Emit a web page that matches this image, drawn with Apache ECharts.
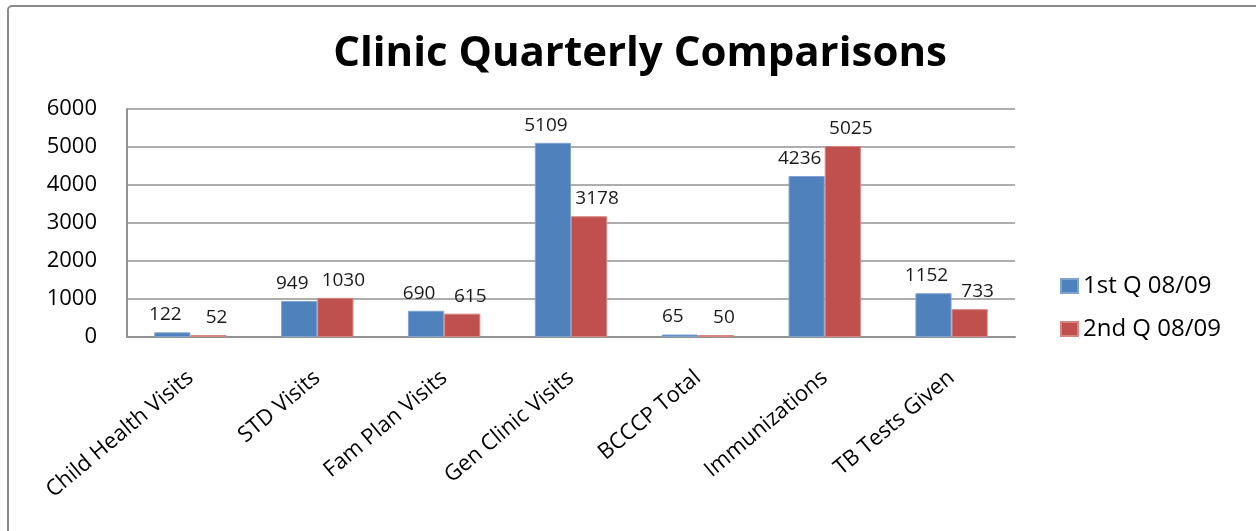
<!DOCTYPE html>
<html>
<head>
<meta charset="utf-8">
<script src="https://cdn.jsdelivr.net/npm/echarts@6/dist/echarts.min.js"></script>
<style>
    html, body { margin: 0; padding: 0; background: #fff; }
    #chart { width: 1256px; height: 531px; }
</style>
</head>
<body>
<div id="chart"></div>
<script>
const categories = ["Child Health Visits", "STD Visits", "Fam Plan Visits", "Gen Clinic Visits", "BCCCP Total", "Immunizations", "TB Tests Given"];
const seriesNames = ["1st Q 08/09", "2nd Q 08/09"];
const q1Values = [122, 949, 690, 5109, 65, 4236, 1152];
const q2Values = [52, 1030, 615, 3178, 50, 5025, 733];
const yTicks = [0, 1000, 2000, 3000, 4000, 5000, 6000];

const fontName = "Open Sans";
const gridColor = "#939393";

let chart = echarts.init(document.getElementById("chart"));

function makeSeries(name, values, color, border, shift) {
    return {
        name: name,
        type: "bar",
        data: values,
        barCategoryGap: "43%",
        barGap: "0%",
        itemStyle: {
            color: color,
            borderColor: border,
            borderWidth: 1,
        },
        label: {
            show: true,
            position: "top",
            distance: 8,
            offset: [shift, 0],
            color: "#1a1a1a",
            fontFamily: fontName,
            fontSize: 19,
        },
    };
}

chart.setOption({
    animation: false,
    backgroundColor: "#fff",
    graphic: [
        {
            type: "rect",
            shape: { x: 8, y: 6, width: 1400, height: 700, r: 4 },
            style: { fill: "none", stroke: "#8a8a8a", lineWidth: 2 },
            silent: true,
        },
    ],
    title: {
        text: "Clinic Quarterly Comparisons",
        left: 635,
        top: 28,
        textAlign: "center",
        textStyle: {
            fontFamily: fontName,
            fontWeight: "bold",
            fontSize: 42,
            color: "#000",
        },
    },
    legend: {
        orient: "vertical",
        left: 1060,
        top: 273,
        padding: 0,
        itemWidth: 17,
        itemHeight: 14,
        itemGap: 17,
        icon: "rect",
        data: seriesNames,
        textStyle: {
            fontFamily: fontName,
            fontSize: 24,
            lineHeight: 26,
            color: "#000",
        },
    },
    grid: {
        left: 127,
        right: 241,
        top: 109,
        bottom: 194,
        containLabel: false,
    },
    xAxis: {
        type: "category",
        data: categories,
        axisTick: { show: false },
        axisLine: { show: true, lineStyle: { color: gridColor, width: 2 } },
        axisLabel: {
            interval: 0,
            rotate: 40,
            margin: 38,
            fontFamily: fontName,
            fontSize: 22,
            color: "#000",
        },
    },
    yAxis: {
        type: "value",
        min: yTicks[0],
        max: yTicks[yTicks.length - 1],
        interval: yTicks[1] - yTicks[0],
        axisLine: { show: true, lineStyle: { color: gridColor, width: 2 } },
        axisTick: { show: false },
        splitLine: { lineStyle: { color: gridColor, width: 1.5 } },
        axisLabel: {
            margin: 30,
            formatter: function (v) {
                return String(v);
            },
            fontFamily: fontName,
            fontSize: 22,
            color: "#000",
        },
    },
    series: [
        makeSeries(seriesNames[0], q1Values, "#4F81BD", "#7FA3D1", -7),
        makeSeries(seriesNames[1], q2Values, "#C0504D", "#D88481", 8),
    ],
});

window.addEventListener("resize", function () {
    chart.resize();
});
</script>
</body>
</html>
